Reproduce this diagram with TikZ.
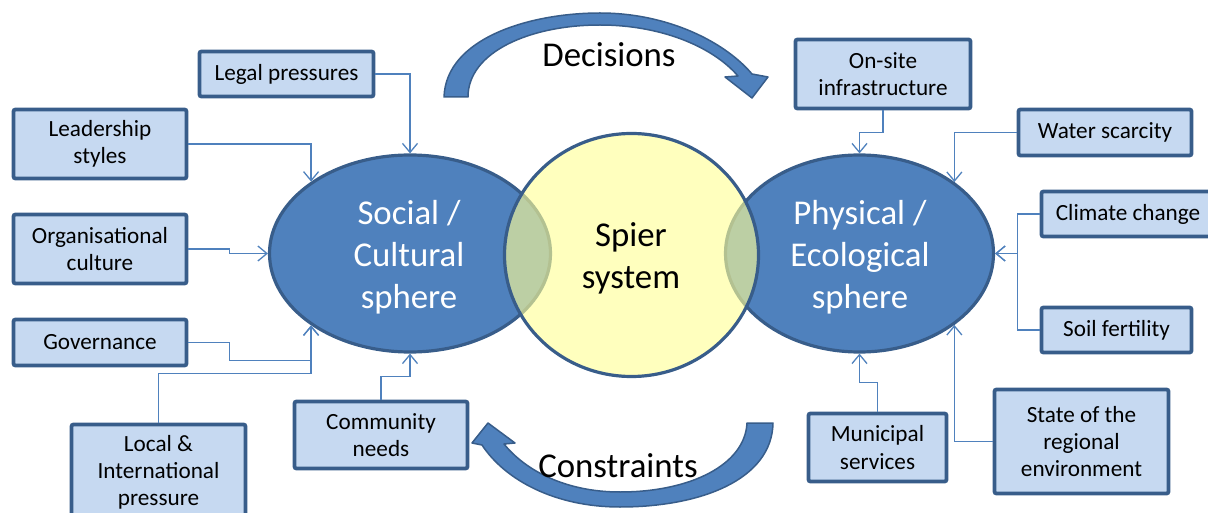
\documentclass[tikz,border=0pt]{standalone}
\usepackage{fontspec}
\setmainfont{Carlito}
\usetikzlibrary{shapes.geometric,arrows.meta}
\definecolor{ellfill}{RGB}{79,129,189}
\definecolor{darkb}{RGB}{56,93,138}
\definecolor{boxfill}{RGB}{198,217,241}
\definecolor{connc}{RGB}{79,129,189}
\definecolor{yel}{RGB}{255,255,150}
\begin{document}
\begin{tikzpicture}[x=1pt,y=-1pt,
  box/.style={draw=darkb, line width=3.8pt, fill=boxfill, rounded corners=2pt, align=center, inner sep=0pt, font=\fontsize{23.2}{27.2}\selectfont, text=black},
  ell/.style={ellipse, draw=darkb, line width=3.2pt, fill=ellfill, inner sep=0pt},
  elltext/.style={text=white, align=center, inner sep=0pt, font=\fontsize{34.8}{42}\selectfont},
  spier/.style={ellipse, draw=darkb, line width=3.2pt, fill=yel, fill opacity=0.62, draw opacity=1, inner sep=0pt},
  bigtext/.style={text=black, align=center, inner sep=0pt, font=\fontsize{34.8}{42}\selectfont},
  conn/.style={draw=connc, line width=1.3pt, -{Straight Barb[length=9pt,width=15pt]}},
  bigarrow/.style={fill=ellfill, draw=darkb, line width=1.5pt, line join=round}
]
\useasboundingbox (0,0) rectangle (1208,513);
\clip (0,0) rectangle (1208,513);

% spheres
\node[ell, minimum width=281, minimum height=197] (L) at (410,253.5) {};
\node[ell, minimum width=268, minimum height=197] (R) at (859.5,253.5) {};
\node[spier, minimum width=254, minimum height=243] (S) at (631.5,255) {};
\node[elltext] (Lt) at (409,257.5) {Social /\\Cultural\\sphere};
\node[elltext] (Rt) at (860,257.5) {Physical /\\Ecological\\sphere};
\node[bigtext] (St) at (631,258) {Spier\\system};

% big curved arrows
\draw[bigarrow] (444,97) .. controls (446,38) and (530,13) .. (600,13)
  .. controls (668,13) and (725,42) .. (752,74) -- (768,77) -- (752,98) -- (725,77) -- (738,76)
  .. controls (712,46) and (660,25) .. (600,25)
  .. controls (530,25) and (468,52) .. (468,97) -- cycle;
\draw[bigarrow] (747,423) -- (773,423) .. controls (772,480) and (700,507) .. (620,507)
  .. controls (555,507) and (505,480) .. (482,445) -- (472,443) -- (488,423) -- (515,443) -- (504,444)
  .. controls (525,470) and (565,492) .. (620,492)
  .. controls (690,492) and (745,465) .. (747,423) -- cycle;
\node[bigtext] (dec) at (609,55) {Decisions};
\node[bigtext] (con) at (618,466) {Constraints};

% boxes
\node[box, minimum width=174, minimum height=45] (legal) at (286.5,74) {Legal pressures};
\node[box, minimum width=173, minimum height=69] (lead) at (100,144) {Leadership\\styles};
\node[box, minimum width=173, minimum height=69] (org) at (100,249) {Organisational\\culture};
\node[box, minimum width=173, minimum height=46] (gov) at (100,342.5) {Governance};
\node[box, minimum width=174, minimum height=96] (local) at (158.5,472.5) {Local \&\\International\\pressure};
\node[box, minimum width=173, minimum height=67] (comm) at (381,435) {Community\\needs};
\node[box, minimum width=175, minimum height=69] (onsite) at (883,74) {On-site\\infrastructure};
\node[box, minimum width=173, minimum height=46] (water) at (1105,132.5) {Water scarcity};
\node[box, minimum width=173, minimum height=45] (climate) at (1128,214) {Climate change};
\node[box, minimum width=150, minimum height=45] (soil) at (1116.5,330) {Soil fertility};
\node[box, minimum width=138, minimum height=68] (muni) at (877.5,447.5) {Municipal\\services};
\node[box, minimum width=174, minimum height=104] (state) at (1081.5,441.5) {State of the\\regional\\environment};

% connectors left
\draw[conn] (legal.east) -| (L.north);
\draw[conn] (lead.east) -| (L.144);
\draw[conn] (org.east) -- ++(41,0) |- (L.west);
\draw[conn] (gov.east) -- ++(41,0) -- ++(0,18) -| (L.216);
\draw[conn] (local.north) -- ++(0,-49) -| (L.216);
\draw[conn] (comm.north) -- ++(0,-23) -| (L.south);
% connectors right
\draw[conn] (onsite.south) -- ++(0,22) -| (R.north);
\draw[conn] (water.west) -| (R.37);
\draw[conn] (climate.west) -- ++(-22,0) |- (R.east);
\draw[conn] (soil.west) -- ++(-22,0) |- (R.east);
\draw[conn] (muni.north) -- ++(0,-29) -| (R.south);
\draw[conn] (state.west) -| (R.-37);
\end{tikzpicture}
\end{document}
